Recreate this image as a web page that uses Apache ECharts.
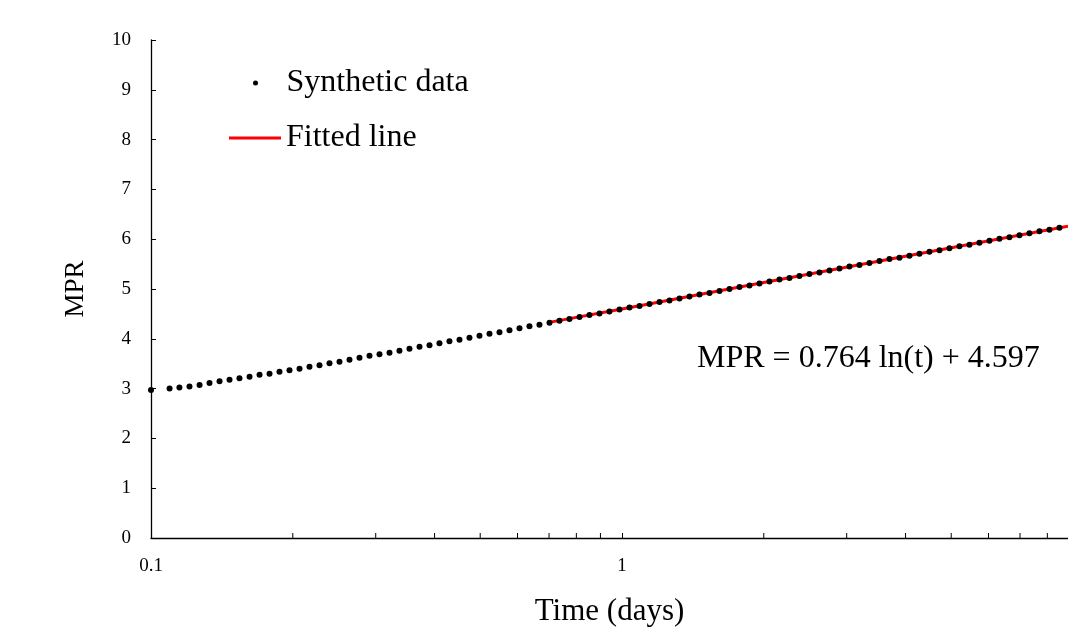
<!DOCTYPE html>
<html>
<head>
<meta charset="utf-8">
<script src="https://cdn.jsdelivr.net/npm/echarts@6/dist/echarts.min.js"></script>
<style>
  html, body { margin: 0; padding: 0; background: #fff; }
  #chart { width: 1068px; height: 632px; }
</style>
</head>
<body>
<div id="chart"></div>
<script>
// synthetic data points (time in days, MPR)
var times = [0.1,
  0.1095, 0.1149, 0.1207, 0.1268, 0.1331, 0.1398, 0.1468, 0.1541, 0.1619, 0.1700,
  0.1785, 0.1874, 0.1968, 0.2067, 0.2170, 0.2279, 0.2393, 0.2513, 0.2639, 0.2771,
  0.2910, 0.3056, 0.3209, 0.3369, 0.3538, 0.3716, 0.3902, 0.4097, 0.4302, 0.4518,
  0.4744, 0.4982, 0.5232, 0.5494, 0.5769, 0.6058, 0.6361, 0.6680, 0.7015, 0.7366,
  0.7735, 0.8123, 0.8529, 0.8957, 0.9405, 0.9878, 1.0373, 1.0893, 1.1439, 1.2012,
  1.2613, 1.3245, 1.3908, 1.4605, 1.5337, 1.6105, 1.6912, 1.7759, 1.8649, 1.9583,
  2.0564, 2.1594, 2.2676, 2.3812, 2.5005, 2.6258, 2.7573, 2.8954, 3.0405, 3.1928,
  3.3527, 3.5207, 3.6970, 3.8823, 4.0767, 4.2810, 4.4954, 4.7206, 4.9571, 5.2054,
  5.4662, 5.7400, 6.0276, 6.3295, 6.6466, 6.9796, 7.3292, 7.6964, 8.0819, 8.4868];
var mpr = [2.97,
  3.00, 3.02, 3.04, 3.07, 3.11, 3.15, 3.18, 3.21, 3.24, 3.28,
  3.30, 3.34, 3.37, 3.40, 3.44, 3.47, 3.51, 3.54, 3.58, 3.62,
  3.66, 3.69, 3.72, 3.76, 3.80, 3.84, 3.87, 3.91, 3.95, 3.98,
  4.02, 4.06, 4.10, 4.13, 4.17, 4.21, 4.25, 4.28, 4.32, 4.36,
  4.40, 4.44, 4.48, 4.51, 4.55, 4.59, 4.63, 4.66, 4.70, 4.74,
  4.77, 4.81, 4.85, 4.89, 4.92, 4.96, 5.00, 5.04, 5.07, 5.11,
  5.15, 5.19, 5.22, 5.26, 5.30, 5.33, 5.37, 5.41, 5.45, 5.48,
  5.52, 5.56, 5.60, 5.63, 5.67, 5.71, 5.75, 5.78, 5.82, 5.86,
  5.89, 5.93, 5.97, 6.01, 6.04, 6.08, 6.12, 6.16, 6.19, 6.23];

// fitted line
var fitTimes = [0.70, 1, 2, 5, 8.85];
var fitMpr = [4.33, 4.60, 5.13, 5.83, 6.26];

// x axis: visible range and tick values
var xMin = 0.1, xMax = 8.85;
var majorTicks = [0.1, 1];
var minorTicks = [0.2, 0.3, 0.4, 0.5, 0.6, 0.7, 0.8, 0.9, 2, 3, 4, 5, 6, 7, 8];

var equation = 'MPR = 0.764 ln(t) + 4.597';

var FONT = "'Liberation Serif', 'Times New Roman', serif";

var synthetic = times.map(function (t, i) { return [t, mpr[i]]; });
var fitted = fitTimes.map(function (t, i) { return [t, fitMpr[i]]; });

var legendBase = {
  orient: 'vertical',
  padding: 0,
  itemWidth: 52,
  selectedMode: false,
  textStyle: { fontFamily: FONT, fontSize: 32, color: '#000', lineHeight: 32 }
};

var chart = echarts.init(document.getElementById('chart'));
chart.setOption({
  animation: false,
  backgroundColor: '#fff',
  grid: { left: 151, top: 40, bottom: 93, right: 0 },
  legend: [
    Object.assign({}, legendBase, {
      left: 253, top: 67, itemHeight: 5,
      data: [{ name: 'Synthetic data', icon: 'circle' }]
    }),
    Object.assign({}, legendBase, {
      left: 229, top: 122, itemHeight: 3,
      data: [{ name: 'Fitted line', icon: 'rect' }]
    })
  ],
  graphic: [{
    type: 'text',
    left: 697,
    top: 343,
    style: { text: equation, font: '32px ' + FONT, fill: '#000' }
  }],
  xAxis: {
    type: 'log',
    logBase: 10,
    min: xMin,
    max: xMax,
    name: 'Time (days)',
    nameLocation: 'middle',
    nameGap: 58,
    nameTextStyle: { fontFamily: FONT, fontSize: 31, color: '#000' },
    axisLine: { lineStyle: { color: '#000', width: 1.3 } },
    axisTick: { inside: true, length: 5, customValues: majorTicks, lineStyle: { color: '#000' } },
    axisLabel: {
      margin: 19, fontFamily: FONT, fontSize: 19, color: '#000',
      customValues: majorTicks,
      formatter: function (v) { return String(+(+v).toPrecision(3)); }
    },
    splitLine: { show: false }
  },
  yAxis: {
    type: 'value',
    min: 0,
    max: 10,
    interval: 1,
    name: 'MPR',
    nameLocation: 'middle',
    nameGap: 62,
    nameTextStyle: { fontFamily: FONT, fontSize: 27, color: '#000' },
    axisLine: { show: true, lineStyle: { color: '#000', width: 1.3 } },
    axisTick: { show: true, inside: true, length: 5, lineStyle: { color: '#000' } },
    axisLabel: { margin: 20, fontFamily: FONT, fontSize: 19, color: '#000' },
    splitLine: { show: false }
  },
  series: [
    {
      name: 'Fitted line',
      type: 'line',
      symbol: 'none',
      data: fitted,
      lineStyle: { color: '#ff0000', width: 3 },
      itemStyle: { color: '#ff0000' },
      z: 2
    },
    {
      name: 'Synthetic data',
      type: 'scatter',
      symbolSize: 6,
      data: synthetic,
      itemStyle: { color: '#000', opacity: 1 },
      z: 3
    },
    {
      name: 'minor',
      type: 'custom',
      silent: true,
      data: minorTicks.map(function (v) { return [v, 0]; }),
      renderItem: function (params, api) {
        var p = api.coord([api.value(0), 0]);
        return {
          type: 'line',
          shape: { x1: p[0], y1: p[1], x2: p[0], y2: p[1] - 5 },
          style: { stroke: '#000', lineWidth: 1 }
        };
      },
      z: 1
    }
  ]
});
</script>
</body>
</html>
